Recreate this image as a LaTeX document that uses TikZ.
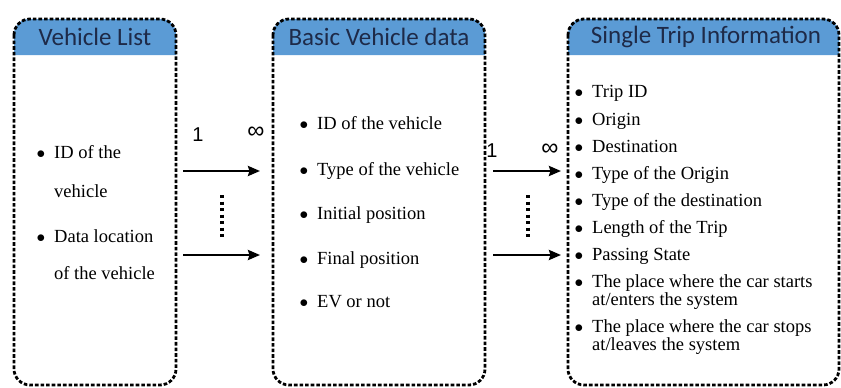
\documentclass[tikz,border=0pt]{standalone}
\usepackage{fontspec}
\setmainfont{Liberation Serif}
\newfontfamily\hdrfont{Carlito}
\newfontfamily\lblfont{Liberation Sans}
\usetikzlibrary{arrows.meta}
\definecolor{hdrblue}{RGB}{91,155,213}
\definecolor{hdrtext}{RGB}{30,42,72}
\tikzset{
	boxline/.style={line width=2.8pt,dash pattern=on 3.6pt off 2pt,rounded corners=16pt},
	hdrfill/.style={fill=hdrblue},
	hdrtitle/.style={font=\hdrfont\fontsize{25}{30}\selectfont,text=hdrtext,inner sep=0pt},
	item/.style={anchor=base west,inner sep=0pt,font=\fontsize{18.5}{20}\selectfont,execute at begin node={\llap{$\bullet$\hspace{9pt}}}},
	cont/.style={anchor=base west,inner sep=0pt,font=\fontsize{18.5}{20}\selectfont},
	link/.style={-{Stealth[length=12pt,width=10pt,inset=1.5pt]},line width=2.4pt},
	more/.style={line width=3.4pt,dash pattern=on 3pt off 3.5pt},
	num/.style={font=\lblfont\fontsize{20}{24}\selectfont,inner sep=0pt}
}
\begin{document}
\begin{tikzpicture}[x=1pt,y=-1pt,line join=round]
	\useasboundingbox (0,0) rectangle (841,388);
	% headers
	\fill[hdrfill] (14,55) [rounded corners=15pt] -- (14,19) -- (176,19) [sharp corners] -- (176,55) -- cycle;
	\fill[hdrfill] (273,55) [rounded corners=15pt] -- (273,19) -- (485,19) [sharp corners] -- (485,55) -- cycle;
	\fill[hdrfill] (568,55) [rounded corners=15pt] -- (568,19) -- (839,19) [sharp corners] -- (839,55) -- cycle;
	% boxes
	\draw[boxline] (14,19) rectangle (176,385);
	\draw[boxline] (273,19) rectangle (485,385);
	\draw[boxline] (568,19) rectangle (839,385);
	\node[hdrtitle] (vlist) at (95,37) {Vehicle List};
	\node[hdrtitle] (vdata) at (379,37) {Basic Vehicle data};
	\node[hdrtitle] (trip) at (706,37) {Single Trip Information};
	% vehicle list
	\node[item] (vl1) at (54,158) {ID of the};
	\node[cont] (vl1b) at (54,197) {vehicle};
	\node[item] (vl2) at (54,242) {Data location};
	\node[cont] (vl2b) at (54,279) {of the vehicle};
	% basic data
	\foreach \y/\t [count=\i] in {129/ID of the vehicle,175/Type of the vehicle,219/Initial position,264/Final position,307/EV or not}
	\node[item] (bv\i) at (317,\y) {\t};
	% trip
	\foreach \y/\t [count=\i] in {97/Trip ID,125/Origin,152/Destination,179/Type of the Origin,206/Type of the destination,233/Length of the Trip,260/Passing State}
	\node[item] (st\i) at (592,\y) {\t};
	\node[item] (st8) at (592,287) {The place where the car starts};
	\node[cont] (st8b) at (592,305) {at/enters the system};
	\node[item] (st9) at (592,332) {The place where the car stops};
	\node[cont] (st9b) at (592,350) {at/leaves the system};
	% links
	\path
	(183,171) coordinate (la1) (260,171) coordinate (lb1)
	(183,255) coordinate (la2) (260,255) coordinate (lb2)
	(222,195) coordinate (ld1) (222,240) coordinate (ld2)
	(493,171) coordinate (ra1) (561,171) coordinate (rb1)
	(493,255) coordinate (ra2) (561,255) coordinate (rb2)
	(528,195) coordinate (rd1) (528,240) coordinate (rd2);
	\draw[link] (la1) -- (lb1);
	\draw[link] (la2) -- (lb2);
	\draw[more] (ld1) -- (ld2);
	\draw[link] (ra1) -- (rb1);
	\draw[link] (ra2) -- (rb2);
	\draw[more] (rd1) -- (rd2);
	\node[num] (lone) at (198,135) {1};
	\node[num,font=\lblfont\fontsize{24}{24}\selectfont] (linf) at (256,133) {∞};
	\node[num] (rone) at (492,151) {1};
	\node[num,font=\lblfont\fontsize{24}{24}\selectfont] (rinf) at (550,150) {∞};
\end{tikzpicture}
\end{document}
